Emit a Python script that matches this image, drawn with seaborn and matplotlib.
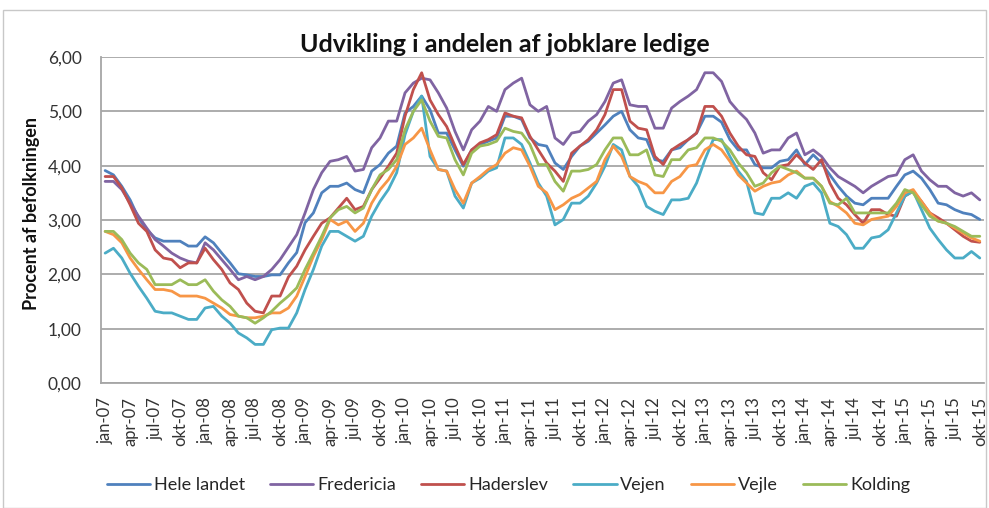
import matplotlib
matplotlib.use('Agg')
import matplotlib.pyplot as plt
import matplotlib.ticker as ticker
from matplotlib.patches import Rectangle
import pandas as pd
import seaborn as sns


# Monthly values jan-07 .. okt-15 (procent af befolkningen)
hele_landet = [
    3.91, 3.83, 3.62, 3.37, 3.04, 2.82, 2.67, 2.61, 2.61, 2.61, 2.52, 2.52,
    2.69, 2.58, 2.39, 2.21, 2.01, 1.99, 1.96, 1.96, 1.99, 1.99, 2.21, 2.40,
    2.95, 3.13, 3.50, 3.62, 3.62, 3.68, 3.56, 3.50, 3.90, 4.02, 4.23, 4.36,
    4.97, 5.09, 5.28, 5.03, 4.60, 4.60, 4.29, 3.99, 4.29, 4.39, 4.45, 4.51,
    4.91, 4.91, 4.85, 4.51, 4.39, 4.36, 4.05, 3.93, 4.17, 4.36, 4.45, 4.60,
    4.75, 4.91, 5.00, 4.66, 4.51, 4.48, 4.11, 4.08, 4.29, 4.33, 4.48, 4.60,
    4.91, 4.91, 4.80, 4.48, 4.29, 4.29, 4.02, 3.96, 3.96, 4.08, 4.11, 4.29,
    4.02, 4.20, 4.05, 3.83, 3.62, 3.44, 3.31, 3.28, 3.40, 3.40, 3.40, 3.62,
    3.83, 3.90, 3.77, 3.56, 3.31, 3.28, 3.19, 3.13, 3.10, 3.01]

fredericia = [
    3.71, 3.71, 3.56, 3.31, 3.07, 2.85, 2.64, 2.52, 2.39, 2.30, 2.24, 2.21,
    2.58, 2.45, 2.27, 2.09, 1.90, 1.96, 1.90, 1.96, 2.09, 2.27, 2.50, 2.73,
    3.13, 3.56, 3.87, 4.08, 4.11, 4.17, 3.90, 3.93, 4.33, 4.51, 4.82, 4.82,
    5.34, 5.52, 5.61, 5.58, 5.34, 5.06, 4.63, 4.29, 4.66, 4.82, 5.09, 5.00,
    5.40, 5.52, 5.61, 5.12, 5.00, 5.09, 4.51, 4.39, 4.60, 4.63, 4.82, 4.94,
    5.18, 5.52, 5.58, 5.12, 5.09, 5.09, 4.69, 4.69, 5.06, 5.18, 5.28, 5.40,
    5.71, 5.71, 5.55, 5.18, 5.00, 4.85, 4.60, 4.23, 4.29, 4.29, 4.51, 4.60,
    4.20, 4.29, 4.17, 3.96, 3.80, 3.71, 3.62, 3.50, 3.62, 3.71, 3.80, 3.83,
    4.11, 4.20, 3.90, 3.74, 3.62, 3.62, 3.50, 3.44, 3.50, 3.37]

haderslev = [
    3.80, 3.80, 3.59, 3.28, 2.94, 2.79, 2.45, 2.30, 2.27, 2.12, 2.21, 2.21,
    2.48, 2.27, 2.09, 1.84, 1.72, 1.47, 1.32, 1.29, 1.60, 1.60, 1.95, 2.15,
    2.45, 2.70, 2.94, 3.04, 3.22, 3.40, 3.19, 3.25, 3.56, 3.77, 3.99, 4.23,
    4.91, 5.40, 5.71, 5.21, 4.94, 4.72, 4.36, 4.02, 4.29, 4.42, 4.48, 4.57,
    4.97, 4.91, 4.88, 4.54, 4.29, 4.05, 3.90, 3.71, 4.23, 4.36, 4.48, 4.66,
    4.94, 5.40, 5.40, 4.82, 4.69, 4.66, 4.17, 4.02, 4.29, 4.39, 4.48, 4.60,
    5.09, 5.09, 4.91, 4.60, 4.36, 4.20, 4.17, 3.87, 3.74, 3.99, 4.02, 4.20,
    4.05, 3.93, 4.11, 3.68, 3.40, 3.28, 3.10, 2.94, 3.19, 3.19, 3.10, 3.07,
    3.44, 3.53, 3.34, 3.13, 3.04, 2.94, 2.82, 2.70, 2.61, 2.59]

vejen = [
    2.39, 2.48, 2.30, 2.02, 1.78, 1.56, 1.32, 1.29, 1.29, 1.23, 1.17, 1.17,
    1.38, 1.41, 1.23, 1.10, 0.92, 0.83, 0.71, 0.71, 0.98, 1.01, 1.01, 1.29,
    1.72, 2.09, 2.52, 2.79, 2.79, 2.70, 2.61, 2.70, 3.07, 3.34, 3.56, 3.87,
    4.57, 5.00, 5.28, 4.17, 3.93, 3.90, 3.44, 3.22, 3.68, 3.77, 3.90, 3.96,
    4.51, 4.51, 4.39, 4.05, 3.68, 3.44, 2.91, 3.01, 3.31, 3.31, 3.44, 3.68,
    3.99, 4.39, 4.29, 3.80, 3.62, 3.25, 3.16, 3.10, 3.37, 3.37, 3.40, 3.68,
    4.11, 4.48, 4.48, 4.17, 3.90, 3.71, 3.13, 3.10, 3.40, 3.40, 3.50, 3.40,
    3.62, 3.68, 3.50, 2.94, 2.88, 2.73, 2.48, 2.48, 2.67, 2.70, 2.82, 3.13,
    3.44, 3.53, 3.19, 2.85, 2.64, 2.45, 2.30, 2.30, 2.42, 2.30]

vejle = [
    2.79, 2.73, 2.58, 2.30, 2.09, 1.90, 1.72, 1.72, 1.69, 1.60, 1.60, 1.60,
    1.56, 1.47, 1.38, 1.26, 1.23, 1.20, 1.20, 1.23, 1.29, 1.29, 1.38, 1.60,
    1.96, 2.33, 2.64, 3.01, 2.91, 2.98, 2.79, 2.94, 3.31, 3.56, 3.74, 3.99,
    4.39, 4.51, 4.69, 4.29, 3.93, 3.90, 3.56, 3.31, 3.68, 3.80, 3.93, 4.02,
    4.23, 4.33, 4.29, 3.99, 3.62, 3.50, 3.19, 3.28, 3.40, 3.47, 3.59, 3.71,
    4.11, 4.36, 4.17, 3.80, 3.71, 3.65, 3.50, 3.50, 3.71, 3.80, 3.99, 4.02,
    4.29, 4.39, 4.29, 4.08, 3.83, 3.68, 3.53, 3.62, 3.68, 3.71, 3.83, 3.90,
    3.77, 3.77, 3.62, 3.34, 3.25, 3.13, 2.94, 2.91, 3.01, 3.04, 3.07, 3.25,
    3.50, 3.56, 3.34, 3.13, 2.98, 2.94, 2.85, 2.76, 2.67, 2.61]

kolding = [
    2.79, 2.79, 2.64, 2.39, 2.21, 2.09, 1.81, 1.81, 1.81, 1.90, 1.81, 1.81,
    1.90, 1.69, 1.53, 1.41, 1.23, 1.20, 1.10, 1.20, 1.32, 1.47, 1.60, 1.75,
    2.09, 2.39, 2.70, 3.04, 3.19, 3.25, 3.13, 3.22, 3.56, 3.83, 3.93, 4.11,
    4.66, 5.00, 5.21, 4.82, 4.54, 4.51, 4.11, 3.83, 4.23, 4.36, 4.39, 4.45,
    4.69, 4.63, 4.60, 4.39, 4.02, 4.02, 3.71, 3.53, 3.90, 3.90, 3.93, 4.02,
    4.29, 4.51, 4.51, 4.20, 4.20, 4.29, 3.83, 3.80, 4.11, 4.11, 4.29, 4.33,
    4.51, 4.51, 4.45, 4.29, 4.05, 3.87, 3.62, 3.68, 3.87, 3.99, 3.93, 3.87,
    3.77, 3.77, 3.62, 3.31, 3.28, 3.40, 3.13, 3.13, 3.13, 3.13, 3.13, 3.31,
    3.56, 3.50, 3.28, 3.07, 2.98, 2.94, 2.88, 2.79, 2.70, 2.70]

tick_labels = [
    'jan-07', 'apr-07', 'jul-07', 'okt-07', 'jan-08', 'apr-08', 'jul-08', 'okt-08',
    'jan-09', 'apr-09', 'jul-09', 'okt-09', 'jan-10', 'apr-10', 'jul-10', 'okt-10',
    'jan-11', 'apr-11', 'jul-11', 'okt-11', 'jan-12', 'apr-12', 'jul-12', 'okt-12',
    'jan-13', 'apr-13', 'jul-13', 'okt-13', 'jan-14', 'apr-14', 'jul-14', 'okt-14',
    'jan-15', 'apr-15', 'jul-15', 'okt-15']

series = {
    'Hele landet': hele_landet,
    'Fredericia': fredericia,
    'Haderslev': haderslev,
    'Vejen': vejen,
    'Vejle': vejle,
    'Kolding': kolding,
}
colors = ['#4F81BD', '#8064A2', '#C0504D', '#4BACC6', '#F79646', '#9BBB59']

# long format for seaborn
df = pd.DataFrame(series)
df['maaned'] = range(len(df))
df_long = df.melt(id_vars='maaned', var_name='omraade', value_name='procent')

sns.set_style('white')
plt.rcParams['font.family'] = ['Lato', 'DejaVu Sans']

fig = plt.figure(figsize=(9.89, 5.08), dpi=100)
ax = fig.add_axes([0.1021, 0.2461, 0.8928, 0.6417])

sns.lineplot(data=df_long, x='maaned', y='procent', hue='omraade',
             palette=colors, linewidth=2.0, ax=ax, legend=False)

ax.set_xlim(-0.5, len(df) - 0.5)
ax.set_ylim(0, 6)
ax.yaxis.set_major_locator(ticker.MultipleLocator(1))
ax.yaxis.set_major_formatter(
    ticker.FuncFormatter(lambda v, p: f'{v:.2f}'.replace('.', ',')))
ax.set_xticks(range(0, len(df), 3))
ax.set_xticklabels(tick_labels, rotation=90)

ax.tick_params(axis='y', length=0, pad=14, labelsize=12.5, labelcolor='#333333')
ax.tick_params(axis='x', length=0, pad=10, labelsize=12, labelcolor='#333333')

ax.grid(axis='y', color='#A6A6A6', linewidth=1.3)
ax.grid(axis='x', visible=False)
ax.set_axisbelow(True)
for side in ['top', 'right']:
    ax.spines[side].set_visible(False)
for side in ['left', 'bottom']:
    ax.spines[side].set_color('#A6A6A6')
    ax.spines[side].set_linewidth(1.3)

ax.set_xlabel('')
ax.set_ylabel('Procent af befolkningen', fontsize=13, fontweight='bold', color='#111111')
ax.yaxis.set_label_coords(-0.069, 0.52)

fig.text(0.510, 0.912, 'Udvikling i andelen af jobklare ledige',
         ha='center', va='center', fontsize=18, fontweight='bold', color='#111111')

# legend below the plot
handles = ax.get_lines()[:len(series)]
fig.legend(handles, list(series.keys()), loc='center', ncol=6, frameon=False,
           bbox_to_anchor=(0.514, 0.045), fontsize=13, handlelength=2.4,
           handletextpad=0.2, columnspacing=1.4)

# chart area border
fig.patches.append(Rectangle((0.003, 0.0), 0.994, 0.98, transform=fig.transFigure,
                             fill=False, edgecolor='#C8C8C8', linewidth=1.0))

fig.savefig('out.png', dpi=100)
